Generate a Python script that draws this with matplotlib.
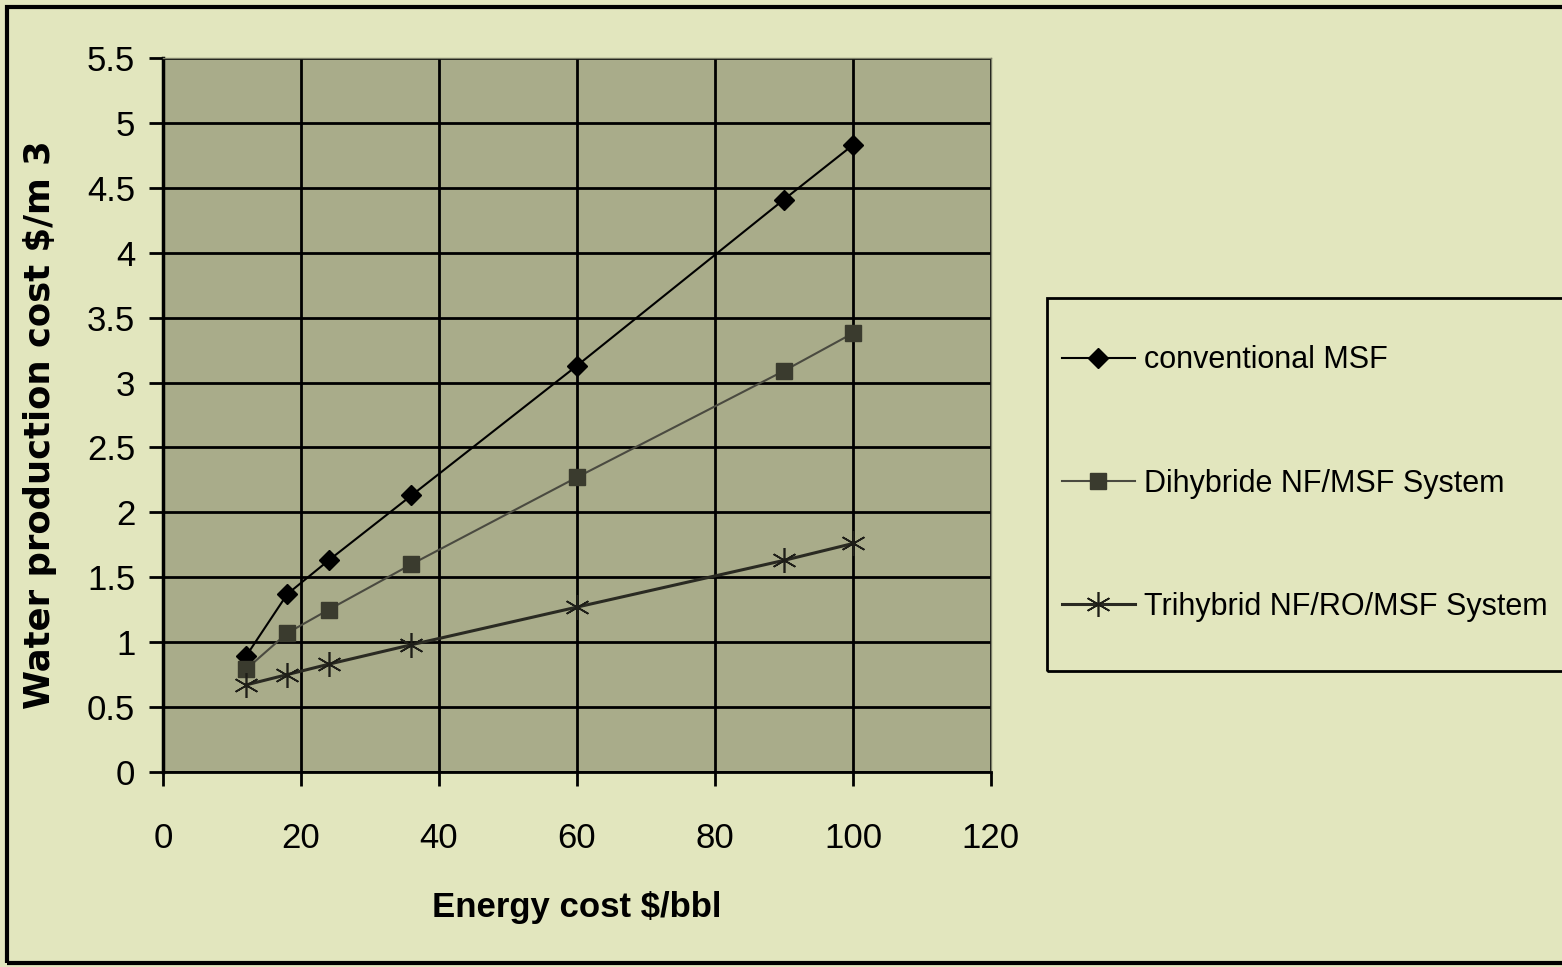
import numpy as np
from matplotlib import pyplot as plt
from matplotlib.patches import Rectangle

# data
energy_cost = [12, 18, 24, 36, 60, 90, 100]
msf_cost = [0.89, 1.37, 1.63, 2.13, 3.13, 4.41, 4.83]
dihybrid_cost = [0.79, 1.07, 1.25, 1.60, 2.27, 3.09, 3.38]
trihybrid_cost = [0.67, 0.75, 0.83, 0.98, 1.27, 1.63, 1.76]
labels = ["conventional MSF", "Dihybride NF/MSF System", "Trihybrid NF/RO/MSF System"]

plt.rcParams['font.family'] = ['Liberation Sans', 'DejaVu Sans']

fig = plt.figure(figsize=(15.62, 9.67), dpi=100, facecolor='#E2E6BE')
ax = fig.add_axes([0.1044, 0.2017, 0.5300, 0.7383])
ax.set_facecolor('#A9AC8A')

ax.plot(energy_cost, msf_cost, color='black', lw=1.5, marker='D', ms=10, mfc='black', mec='black', label=labels[0])
ax.plot(energy_cost, dihybrid_cost, color='#4a4a40', lw=1.5, marker='s', ms=12, mfc='#3a3b2e', mec='#3a3b2e', label=labels[1])
ax.plot(energy_cost, trihybrid_cost, color='#2a2a22', lw=2.2, marker=(6, 2, 0), ms=18, mec='#1e1e18', mew=1.2, label=labels[2])

ax.set_xlim(0, 120)
ax.set_ylim(0, 5.5)
ax.set_xticks(np.arange(0, 121, 20))
ax.set_yticks(np.arange(0, 5.51, 0.5))
ax.set_yticklabels(['0', '0.5', '1', '1.5', '2', '2.5', '3', '3.5', '4', '4.5', '5', '5.5'])
ax.grid(True, color='black', lw=2)
ax.set_axisbelow(True)
ax.tick_params(axis='both', labelsize=25, length=10, width=2, color='black')
ax.tick_params(axis='x', pad=26)
ax.tick_params(axis='y', pad=10)
for side in ['top', 'right']:
    ax.spines[side].set_color('#7d8068')
    ax.spines[side].set_linewidth(1)
ax.spines['left'].set_linewidth(2.5)
ax.spines['bottom'].set_linewidth(2)

ax.set_xlabel("Energy cost $/bbl", fontsize=25, fontweight='bold', labelpad=26)
ax.set_ylabel("Water production cost $/m 3", fontsize=25.5, fontweight='bold', family='DejaVu Sans')
ax.yaxis.set_label_coords(-0.128, 0.487)

# legend box runs off the right edge
fig.patches.append(Rectangle((1047 / 1562, 1 - 671 / 967), 0.4, (671 - 298) / 967,
                             transform=fig.transFigure, fill=False, ec='black', lw=2))
fig.legend(loc='upper left', bbox_to_anchor=(1034 / 1562, 1 - 318 / 967), frameon=False,
           fontsize=22, labelspacing=3.05, handlelength=2.4, handletextpad=0.3)

# figure border
fig.patches.append(Rectangle((7 / 1562, 4 / 967), 1.2, 1 - 11 / 967, transform=fig.transFigure,
                             fill=False, ec='black', lw=3))

fig.savefig('out.png', dpi=100, facecolor=fig.get_facecolor())
